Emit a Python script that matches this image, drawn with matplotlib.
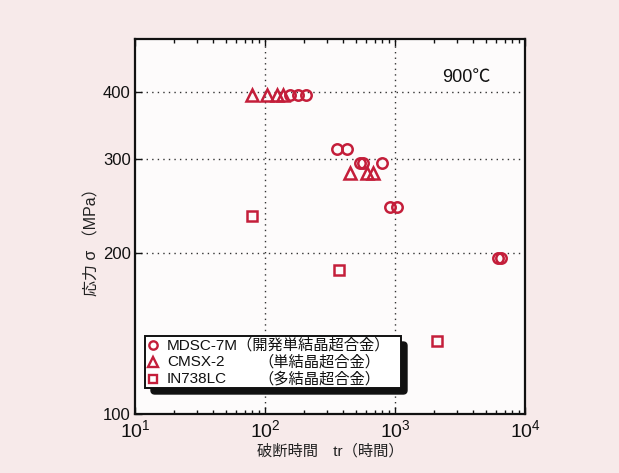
import matplotlib
matplotlib.use("Agg")
import matplotlib.pyplot as plt
from matplotlib.patches import FancyBboxPatch
from matplotlib.ticker import FixedLocator, FixedFormatter, LogLocator, NullFormatter, NullLocator

plt.rcParams['font.family'] = ['Liberation Sans', 'Noto Sans CJK JP', 'DejaVu Sans']
plt.rcParams['mathtext.default'] = 'regular'

# Creep rupture data at 900 C: rupture time (h) and stress (MPa)
mdsc_time = [155, 178, 205, 358, 427, 538, 567, 795, 916, 1036, 6190, 6530]
mdsc_stress = [394, 394, 394, 313, 313, 294, 294, 294, 244, 244, 196, 196]

cmsx_time = [79, 104, 124, 137, 451, 609, 677]
cmsx_stress = [394, 394, 394, 394, 282, 282, 282]

in738_time = [79, 371, 2104]
in738_stress = [234, 186, 137]

series_names = ["MDSC-7M", "CMSX-2", "IN738LC"]
series_notes = ["（開発単結晶超合金）", "（単結晶超合金）", "（多結晶超合金）"]
series_markers = ["o", "^", "s"]

y_ticks = [100, 200, 300, 400]
x_grid = [100, 1000]
y_grid = [200, 300, 400]

red = "#c41e3a"
bg = "#f7eaea"

fig = plt.figure(figsize=(6.19, 4.73), dpi=100, facecolor=bg)
ax = fig.add_axes([135 / 619, 59 / 473, 390 / 619, 375 / 473])
ax.set_facecolor("#fdfbfb")

ax.set_xscale("log")
ax.set_yscale("log")
ax.set_xlim(10, 1e4)
ax.set_ylim(100, 502)

for gx in x_grid:
    ax.axvline(gx, color="#333333", lw=1.0, ls=(0, (1, 3)), zorder=1)
for gy in y_grid:
    ax.axhline(gy, color="#333333", lw=1.0, ls=(0, (1, 3)), zorder=1)

kw = dict(ls="none", mfc="none", mec=red, mew=1.8, zorder=3)
ax.plot(mdsc_time, mdsc_stress, marker="o", ms=7.5, **kw)
ax.plot(cmsx_time, cmsx_stress, marker="^", ms=8, **kw)
ax.plot(in738_time, in738_stress, marker="s", ms=6.5, **kw)

# axes, ticks
for s in ax.spines.values():
    s.set_linewidth(1.6)
    s.set_color("#111111")

ax.xaxis.set_major_locator(LogLocator(base=10, numticks=10))
ax.xaxis.set_minor_locator(LogLocator(base=10, subs=range(2, 10), numticks=10))
ax.xaxis.set_minor_formatter(NullFormatter())
ax.yaxis.set_major_locator(FixedLocator(y_ticks))
ax.yaxis.set_major_formatter(FixedFormatter([str(v) for v in y_ticks]))
ax.yaxis.set_minor_locator(NullLocator())

ax.tick_params(axis="x", which="both", direction="in", top=True, bottom=True,
               labelsize=14, pad=4, colors="#111111")
ax.tick_params(axis="x", which="major", length=5, width=1)
ax.tick_params(axis="x", which="minor", length=3, width=1)
ax.tick_params(axis="y", which="major", direction="in", left=True, right=False,
               length=5, width=1, labelsize=12, pad=3, colors="#111111")

ax.text(-0.11, 0.47, "応力 σ （MPa）", rotation=90, transform=ax.transAxes,
        ha="center", va="center", fontsize=11.5, color="#222222")
fig.text(330 / 619, 1 - 451 / 473, "破断時間　tr（時間）", ha="center", va="center",
         fontsize=11, color="#222222")

ax.text(0.849, 0.896, "900℃", transform=ax.transAxes, ha="center", va="center",
        fontsize=13, color="#111111")

# boxed legend with drop shadow
x0, x1 = 10 / 390, 266 / 390
y0, y1 = 26 / 375, 78 / 375
dx, dy = 6 / 390, -6 / 375
shadow = FancyBboxPatch((x0 + dx, y0 + dy), x1 - x0, y1 - y0,
                        boxstyle="round,pad=0,rounding_size=0.01",
                        transform=ax.transAxes, fc="#111111", ec="#111111", zorder=4)
box = FancyBboxPatch((x0, y0), x1 - x0, y1 - y0, boxstyle="square,pad=0",
                     transform=ax.transAxes, fc="white", ec="#111111", lw=1.4, zorder=5)
ax.add_patch(shadow)
ax.add_patch(box)

row_y = [69 / 375, 52 / 375, 35 / 375]
marker_x = 18 / 390
name_x = 32 / 390
note_x = [None, 123 / 390, 123 / 390]
msizes = [6, 6.5, 5.5]
for i, (name, note, mk) in enumerate(zip(series_names, series_notes, series_markers)):
    ax.plot([marker_x], [row_y[i]], marker=mk, ms=msizes[i], mfc="none", mec=red,
            mew=1.7, transform=ax.transAxes, zorder=6, clip_on=False)
    if note_x[i] is None:
        ax.text(name_x, row_y[i], name + note, transform=ax.transAxes, ha="left",
                va="center", fontsize=11, color="#111111", zorder=6)
    else:
        ax.text(name_x, row_y[i], name, transform=ax.transAxes, ha="left",
                va="center", fontsize=11, color="#111111", zorder=6)
        ax.text(note_x[i], row_y[i], note, transform=ax.transAxes, ha="left",
                va="center", fontsize=11, color="#111111", zorder=6)

fig.savefig("out.png", dpi=100, facecolor=bg)
